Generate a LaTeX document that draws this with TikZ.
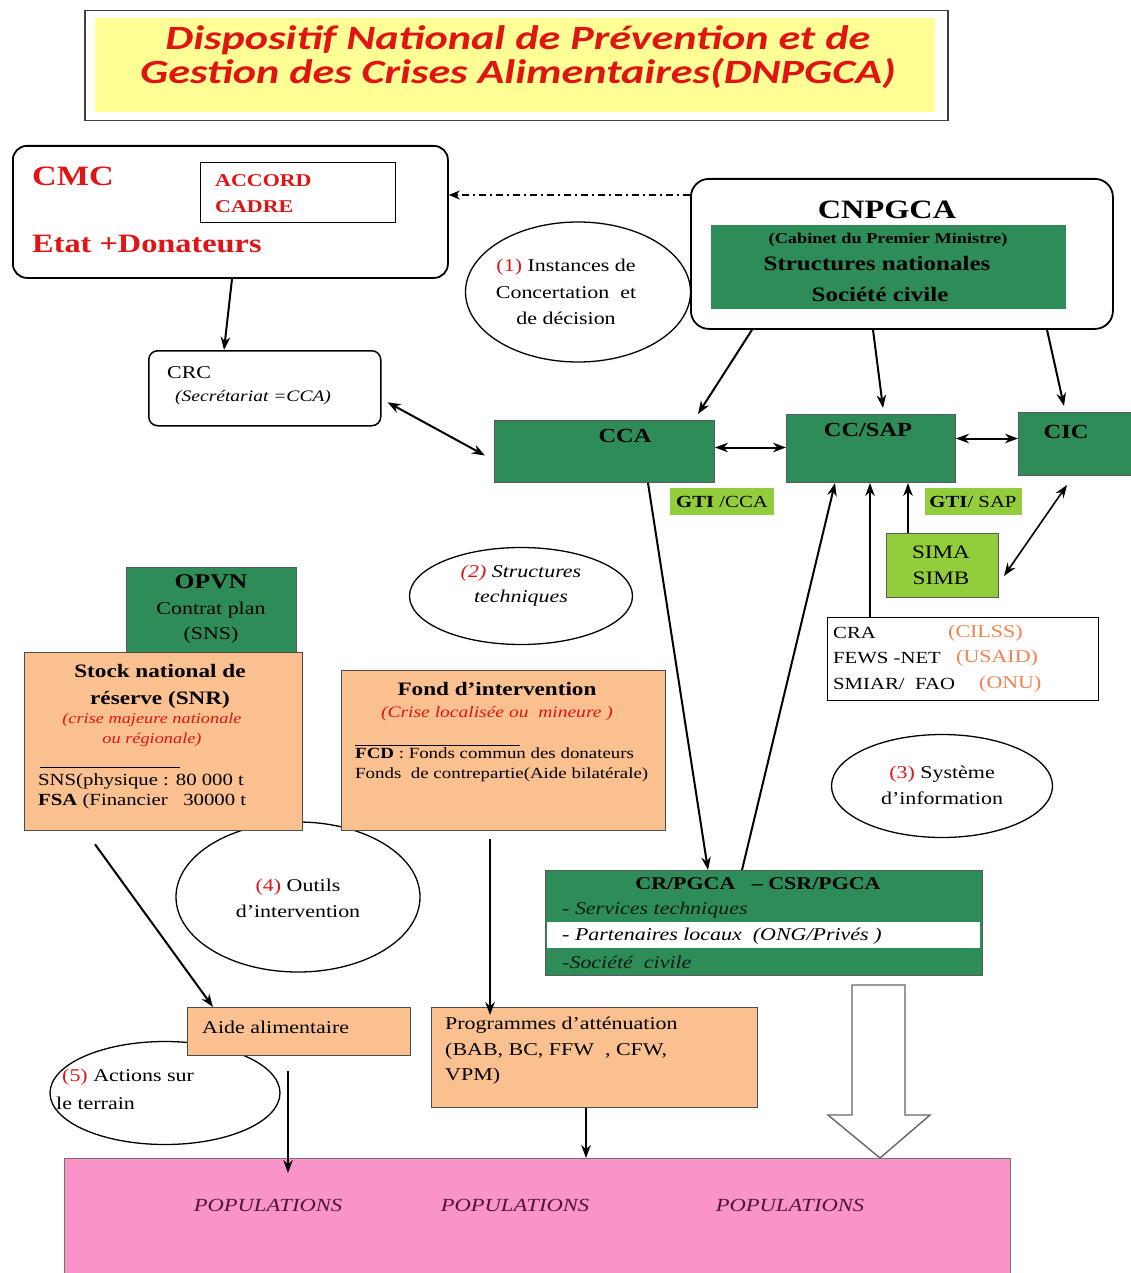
\documentclass[tikz,border=0pt]{standalone}
\usepackage{fontspec}
\setmainfont{Liberation Serif}[FakeStretch=1.22]
\newfontfamily\titlefont{Carlito}[FakeStretch=1.3]
\usetikzlibrary{arrows.meta,shapes.geometric,calc}
\definecolor{dgreen}{RGB}{46,140,88}
\definecolor{lgreen}{RGB}{146,205,60}
\definecolor{peach}{RGB}{250,192,144}
\definecolor{pinkb}{RGB}{250,148,200}
\definecolor{yel}{RGB}{255,255,150}
\definecolor{tred}{RGB}{225,20,20}
\definecolor{torange}{RGB}{240,130,80}
\definecolor{popc}{RGB}{80,20,60}
\newcommand\fsz[2]{\fontsize{#1}{#2}\selectfont}
\begin{document}
\begin{tikzpicture}[x=1pt,y=-1pt,
  arr/.style={line width=2pt,-{Stealth[length=13pt,width=9.5pt]}},
  darr/.style={line width=2pt,{Stealth[length=13pt,width=9.5pt]}-{Stealth[length=13pt,width=9.5pt]}},
  rbox/.style={draw,line width=1.6pt,anchor=north west,inner sep=0pt},
  gbox/.style={fill=dgreen,draw=black!65,line width=1pt,anchor=north west,inner sep=0pt},
  lgbox/.style={fill=lgreen,anchor=north west,inner sep=0pt},
  pbox/.style={fill=peach,draw=black!70,line width=1.3pt,anchor=north west,inner sep=0pt},
  ell/.style={draw,ellipse,line width=1.3pt,inner sep=0pt},
  txt/.style={inner sep=0pt}]
\useasboundingbox (0,0) rectangle (1131,1273);
\fill[white] (0,0) rectangle (1131,1273);

% title
\node[rbox,draw=black!75,line width=1.5pt,minimum width=863,minimum height=110] (tframe) at (84,10) {};
\node[lgbox,fill=yel,minimum width=840,minimum height=94] (tfill) at (95,18) {};
\node[txt,font=\titlefont\bfseries\itshape\fsz{34}{34},text=tred,align=center] (title) at (518,57) {Dispositif National de Prévention et de\\Gestion des Crises Alimentaires(DNPGCA)};

% CMC
\node[rbox,rounded corners=14pt,line width=1.8pt,minimum width=435,minimum height=132] (cmc) at (12,145) {};
\node[rbox,line width=1.4pt,minimum width=195,minimum height=60] (accord) at (200,162) {};
\node[txt,anchor=west,text=tred,font=\bfseries\fsz{28}{28}] (cmct) at (32,176) {CMC};
\node[txt,anchor=west,text=tred,font=\bfseries\fsz{26.5}{28}] (etat) at (32,244) {Etat +Donateurs};
\node[txt,anchor=west,text=tred,font=\bfseries\fsz{18}{26},align=left] (acct) at (215,194) {ACCORD\\CADRE};

% CNPGCA
\node[rbox,rounded corners=18pt,line width=1.8pt,minimum width=422,minimum height=150] (cnp) at (690,178) {};
\node[gbox,draw=none,minimum width=355,minimum height=83] (cnpg) at (710,225) {};
\node[txt,font=\bfseries\fsz{26.5}{28}] (cnpt) at (887,210) {CNPGCA};
\node[txt,font=\bfseries\fsz{15}{16}] (cab) at (888,240) {(Cabinet du Premier Ministre)};
\node[txt,font=\bfseries\fsz{20.5}{22}] (struc) at (877,264) {Structures nationales};
\node[txt,font=\bfseries\fsz{20.5}{22}] (soc) at (880,294) {Société civile};
\coordinate (dd1) at (690,195);
\draw[dash pattern=on 7pt off 4pt on 2pt off 4pt,line width=1.5pt,-{Stealth[length=11pt,width=9pt]}] (dd1) -- (cmc.east |- dd1);

% ellipse 1
\node[ell,minimum width=225,minimum height=140] (e1) at (578,292) {};
\node[txt,font=\fsz{18}{26.5},align=center] (e1t) at (566,292) {{\color{tred}(1)} Instances de\\Concertation~ et\\de décision};

% CRC
\node[rbox,rounded corners=9pt,line width=1.5pt,minimum width=232,minimum height=75] (crc) at (148,350) {};
\node[txt,anchor=west,font=\fsz{18}{18}] (crct) at (167,373) {CRC};
\node[txt,anchor=west,font=\itshape\fsz{16}{18}] (crcs) at (175,398) {(Secrétariat =CCA)};

% green row
\node[gbox,minimum width=220,minimum height=62] (cca) at (494,420) {};
\node[txt,font=\bfseries\fsz{20}{22}] (ccat) at (625,436) {CCA};
\node[gbox,minimum width=169,minimum height=68] (ccsap) at (786,414) {};
\node[txt,font=\bfseries\fsz{20}{22}] (ccsapt) at (868,430) {CC/SAP};
\node[gbox,minimum width=130,minimum height=63] (cic) at (1018,412) {};
\node[txt,font=\bfseries\fsz{20}{22}] (cict) at (1066,432) {CIC};

\node[lgbox,minimum width=104,minimum height=27] (gti1) at (670,488) {};
\node[txt,font=\fsz{17}{18}] (gti1t) at (722,502) {\textbf{GTI} /CCA};
\node[lgbox,minimum width=97,minimum height=27] (gti2) at (925,488) {};
\node[txt,font=\fsz{17}{18}] (gti2t) at (973,502) {\textbf{GTI}/ SAP};

\node[lgbox,draw=black!65,line width=1pt,minimum width=112,minimum height=64] (sima) at (886,533) {};
\node[txt,font=\fsz{19}{26},align=center] (simat) at (941,565) {SIMA\\SIMB};

% CRA box
\node[rbox,line width=1.4pt,minimum width=271,minimum height=83] (cra) at (827,617) {};
\node[txt,anchor=west,font=\fsz{17}{18}] (cra1) at (833,633) {CRA};
\node[txt,anchor=west,font=\fsz{17}{18}] (cra2) at (833,658) {FEWS -NET};
\node[txt,anchor=west,font=\fsz{17}{18}] (cra3) at (833,684) {SMIAR/~ FAO};
\node[txt,anchor=west,font=\fsz{18}{18},text=torange] (cra1b) at (948,633) {(CILSS)};
\node[txt,anchor=west,font=\fsz{18}{18},text=torange] (cra2b) at (956,658) {(USAID)};
\node[txt,anchor=west,font=\fsz{18}{18},text=torange] (cra3b) at (979,684) {(ONU)};

% connectors top
\draw[arr] ([xshift=220pt]cmc.south west) -- ([xshift=76pt]crc.north west);
\draw[darr] ([xshift=6pt,yshift=-14pt]crc.east) -- ([xshift=-9pt,yshift=-4pt]cca.west);
\draw[arr] ([xshift=62pt]cnp.south west) -- ([xshift=204pt,yshift=6pt]cca.north west);
\draw[arr] ([xshift=183pt]cnp.south west) -- ([xshift=97pt,yshift=6pt]ccsap.north west);
\draw[arr] ([xshift=357pt]cnp.south west) -- ([xshift=46pt,yshift=6pt]cic.north west);
\draw[darr] ([yshift=4pt]cca.east) -- ([yshift=4pt]cca.east -| ccsap.west);
\draw[darr] ([yshift=10pt]ccsap.east) -- ([yshift=10pt]ccsap.east -| cic.west);
\draw[arr] ([xshift=22pt]sima.north west) -- ([xshift=22pt]sima.north west |- ccsap.south);
\draw[darr,line width=1.6pt] ([xshift=49pt,yshift=-9pt]cic.south west) -- ([xshift=5pt,yshift=22pt]sima.south east);
\draw[arr,line width=1.6pt] ([xshift=43pt]cra.north west) -- ([xshift=43pt]cra.north west |- ccsap.south);

% ellipse 2
\node[ell,minimum width=223,minimum height=97] (e2) at (521,596) {};
\node[txt,font=\itshape\fsz{18}{25},align=center] (e2t) at (521,586) {{\color{tred}(2)} Structures\\techniques};

% ellipse 4 (behind the boxes)
\node[ell,minimum width=244,minimum height=150] (e4) at (298,897) {};
\node[txt,font=\fsz{18}{26},align=center] (e4t) at (298,898) {{\color{tred}(4)} Outils\\d'intervention};

% OPVN + stock
\node[gbox,minimum width=170,minimum height=90] (opvn) at (126,567) {};
\node[txt,font=\bfseries\fsz{21}{22}] (opvnt) at (211,582) {OPVN};
\node[txt,font=\fsz{18}{18}] (opvn2) at (211,610) {Contrat plan};
\node[txt,font=\fsz{18}{18}] (opvn3) at (211,635) {(SNS)};
\node[pbox,minimum width=278,minimum height=178] (stock) at (24,652) {};
\node[txt,font=\bfseries\fsz{19}{27},align=center] (stock1) at (160,686) {Stock national de\\réserve (SNR)};
\node[txt,font=\itshape\fsz{15}{20},text=tred,align=center] (stock2) at (152,730) {(crise majeure nationale\\ou régionale)};
\draw[line width=0.8pt] ([xshift=16pt,yshift=-115pt]stock.north west) -- ([xshift=156pt,yshift=-115pt]stock.north west);
\node[txt,anchor=west,font=\fsz{17}{20},align=left] (stock3) at (38,791) {SNS(physique : 80 000 t\\\textbf{FSA} (Financier~~ 30000 t};

% Fond
\node[pbox,minimum width=324,minimum height=160] (fond) at (341,670) {};
\node[txt,font=\bfseries\fsz{19}{19}] (fond1) at (497,689) {Fond d'intervention};
\node[txt,font=\itshape\fsz{16}{16},text=tred] (fond2) at (497,714) {(Crise localisée ou~ mineure )};
\draw[line width=0.8pt] ([xshift=14pt,yshift=-75pt]fond.north west) -- ([xshift=179pt,yshift=-75pt]fond.north west);
\node[txt,anchor=west,font=\fsz{15.5}{20},align=left] (fond3) at (355,765) {\textbf{FCD} : Fonds commun des donateurs\\Fonds~ de contrepartie(Aide bilatérale)};

% ellipse 3
\node[ell,minimum width=221,minimum height=103] (e3) at (942,786) {};
\node[txt,font=\fsz{18}{26},align=center] (e3t) at (942,785) {{\color{tred}(3)} Système\\d'information};

% CR/PGCA
\node[gbox,minimum width=437,minimum height=105] (crp) at (545,870) {};
\node[fill=white,anchor=north west,inner sep=0pt,minimum width=433,minimum height=26] (band) at (547,922) {};
\node[txt,font=\bfseries\fsz{18}{18}] (crpt) at (758,884) {CR/PGCA~~ -- CSR/PGCA};
\node[txt,anchor=west,font=\itshape\fsz{18}{18},text=black!80!dgreen] (crp1) at (562,910) {- Services techniques};
\node[txt,anchor=west,font=\itshape\fsz{18}{18}] (crp2) at (562,936) {- Partenaires locaux~ (ONG/Privés )};
\node[txt,anchor=west,font=\itshape\fsz{18}{18},text=black!80!dgreen] (crp3) at (562,962) {-Société~ civile};
\draw[arr] ([xshift=154pt]cca.south west) -- ([xshift=163pt]crp.north west);
\draw[arr] ([xshift=197pt]crp.north west) -- ([xshift=49pt]ccsap.south west);

% hollow arrow
\draw[fill=white,draw=black!60,line width=1.4pt] (852,985) -- (905,985) -- (905,1115) -- (930,1115) -- (880,1158) -- (828,1115) -- (852,1115) -- cycle;

% ellipse 5
\node[ell,minimum width=230,minimum height=103] (e5) at (165,1093) {};
\node[txt,anchor=west,font=\fsz{18}{18}] (e5a) at (62,1077) {{\color{tred}(5)} Actions sur};
\node[txt,anchor=west,font=\fsz{18}{18}] (e5b) at (56,1103) {le terrain};

% bottom boxes
\node[pbox,minimum width=223,minimum height=48] (aide) at (187,1007) {};
\node[txt,anchor=west,font=\fsz{18}{18}] (aidet) at (202,1027) {Aide alimentaire};
\node[pbox,minimum width=326,minimum height=100] (prog) at (431,1007) {};
\node[txt,anchor=north west,font=\fsz{18}{25.5},align=left] (progt) at (445,1017) {Programmes d'atténuation\\(BAB, BC, FFW~ , CFW,\\VPM)};

\draw[arr] ([xshift=71pt,yshift=-13pt]stock.south west) -- ([xshift=26pt]aide.north west);
\draw[arr] ([xshift=149pt,yshift=-8pt]fond.south west) -- ([xshift=149pt,yshift=-8pt]fond.south west |- prog.north);

% populations
\node[anchor=north west,inner sep=0pt,fill=pinkb,draw=black!55,line width=1.3pt,minimum width=946,minimum height=125] (pop) at (64,1158) {};
\node[txt,font=\itshape\fsz{18.5}{19},text=popc] (pop1) at (268,1205) {POPULATIONS};
\node[txt,font=\itshape\fsz{18.5}{19},text=popc] (pop2) at (515,1205) {POPULATIONS};
\node[txt,font=\itshape\fsz{18.5}{19},text=popc] (pop3) at (790,1205) {POPULATIONS};
\draw[arr,line width=1.8pt] ([xshift=101pt,yshift=-15pt]aide.south west) -- ([xshift=101pt,yshift=-15pt]aide.south west |- pop.north);
\draw[arr,line width=1.8pt] ([xshift=155pt]prog.south west) -- ([xshift=155pt]prog.south west |- pop.north);
\end{tikzpicture}
\end{document}
